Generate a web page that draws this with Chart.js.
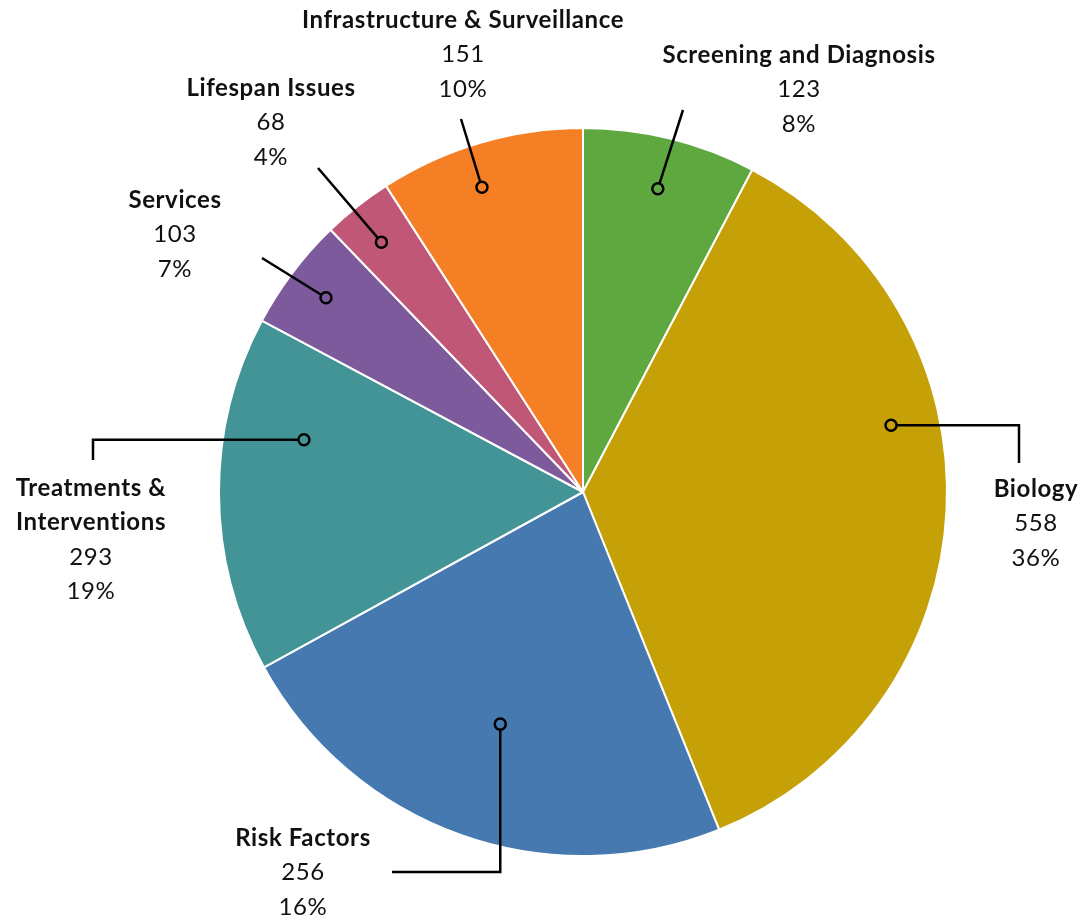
<!DOCTYPE html>
<html>
<head>
<meta charset="utf-8">
<script src="https://cdn.jsdelivr.net/npm/chart.js@4/dist/chart.umd.min.js"></script>
<style>
    html, body { margin: 0; padding: 0; background: #fff; }
    #wrap { width: 1085px; height: 922px; }
</style>
</head>
<body>
<div id="wrap"><canvas id="pieChart" width="1085" height="922"></canvas></div>
<script>
// Data
const categories = ['Screening and Diagnosis', 'Biology', 'Risk Factors', ['Treatments &', 'Interventions'], 'Services', 'Lifespan Issues', 'Infrastructure & Surveillance'];
const counts = [123, 558, 256, 293, 103, 68, 151];
// share of the circle each slice takes in the picture (%)
const sliceShares = [7.7, 36.2, 23.1, 15.8, 5.0, 3.1, 9.1];
const colors = ['#5fa840', '#c5a006', '#4679b0', '#429497', '#7c5a9c', '#c05776', '#f47f25'];

const total = counts.reduce((a, b) => a + b, 0);
const percents = counts.map(c => Math.round(c / total * 100) + '%');

// Where each callout sits: position of the ring marker inside the slice,
// the leader line and the text block
const callouts = [
    { at: 0.5,   r: 0.858, path: [['to', 683, 110]],          text: [799, 55] },
    { at: 0.384, r: 0.866, path: [['h', 1019], ['v', 463]],    text: [1036, 489] },
    { at: 0.5,   r: 0.677, path: [['v', 872], ['h', 392]],     text: [303, 838] },
    { at: 0.693, r: 0.78,  path: [['h', 93], ['v', 460]],      text: [91, 488] },
    { at: 0.5,   r: 0.885, path: [['to', 262, 258]],          text: [175, 200] },
    { at: 0.45,  r: 0.882, path: [['to', 318, 168]],          text: [271, 88] },
    { at: 0.44,  r: 0.882, path: [['to', 461, 119]],          text: [463, 20] }
];

const LINE_H = 34.5;

const calloutPlugin = {
    id: 'callouts',
    afterDatasetsDraw(chart) {
        const ctx = chart.ctx;
        const arcs = chart.getDatasetMeta(0).data;
        ctx.save();
        arcs.forEach((arc, i) => {
            const c = callouts[i];
            const ang = arc.startAngle + (arc.endAngle - arc.startAngle) * c.at;
            const rad = arc.outerRadius * c.r;
            const mx = arc.x + Math.cos(ang) * rad;
            const my = arc.y + Math.sin(ang) * rad;

            // leader line
            ctx.strokeStyle = '#000';
            ctx.lineWidth = 2.5;
            ctx.lineJoin = 'miter';
            ctx.beginPath();
            ctx.moveTo(mx, my);
            let x = mx, y = my;
            c.path.forEach(seg => {
                if (seg[0] === 'h') x = seg[1];
                else if (seg[0] === 'v') y = seg[1];
                else { x = seg[1]; y = seg[2]; }
                ctx.lineTo(x, y);
            });
            ctx.stroke();

            // ring marker
            ctx.beginPath();
            ctx.arc(mx, my, 5.5, 0, Math.PI * 2);
            ctx.fillStyle = colors[i];
            ctx.fill();
            ctx.stroke();

            // text block
            const name = Array.isArray(categories[i]) ? categories[i] : [categories[i]];
            ctx.fillStyle = '#111';
            ctx.textAlign = 'center';
            ctx.textBaseline = 'middle';
            ctx.letterSpacing = '0.6px';
            let ty = c.text[1];
            ctx.font = 'bold 24px Lato';
            name.forEach(line => {
                ctx.fillText(line, c.text[0], ty);
                ty += LINE_H;
            });
            ctx.font = '24px Lato';
            ctx.fillText(String(counts[i]), c.text[0], ty);
            ty += LINE_H;
            ctx.fillText(percents[i], c.text[0], ty);
        });
        ctx.restore();
    }
};

new Chart(document.getElementById('pieChart'), {
    type: 'pie',
    data: {
        labels: categories,
        datasets: [{
            data: sliceShares,
            backgroundColor: colors,
            borderColor: '#ffffff',
            borderWidth: 2,
            hoverOffset: 0
        }]
    },
    options: {
        responsive: false,
        animation: false,
        events: [],
        layout: {
            padding: { top: 127, bottom: 65, left: 218, right: 137 }
        },
        plugins: {
            legend: { display: false },
            tooltip: { enabled: false }
        }
    },
    plugins: [calloutPlugin]
});
</script>
</body>
</html>
